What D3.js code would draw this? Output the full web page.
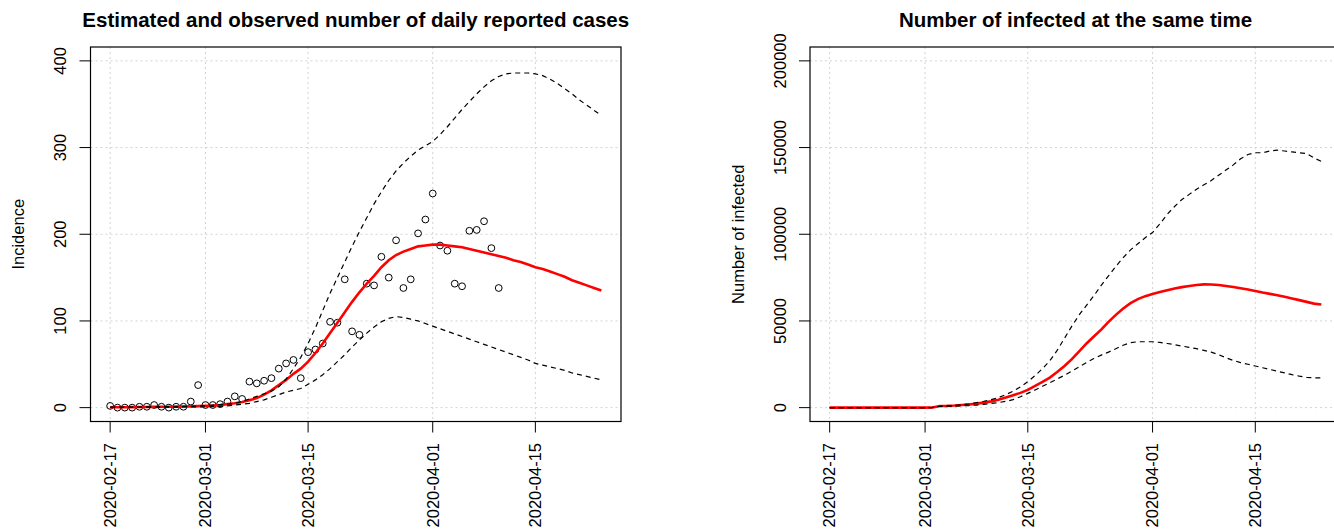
<!DOCTYPE html>
<html>
<head>
<meta charset="utf-8">
<script src="https://cdn.jsdelivr.net/npm/d3@7"></script>
<style>
  html, body { margin: 0; padding: 0; background: #fff; }
  text { font-family: "Liberation Sans", Arial, sans-serif; fill: #000; }
</style>
</head>
<body>
<script>
// first day of the series, all arrays below are one value per day from here
const START_DATE = "2020-02-17";
const tickDates = ["2020-02-17", "2020-03-01", "2020-03-15", "2020-04-01", "2020-04-15"];

// observed daily reported cases (02-17 .. 04-10)
const casesObserved = [2, 0, 0, 0, 1, 1, 3, 1, 0, 1, 1, 7, 26, 3, 3, 4, 7, 13, 10, 30,
  28, 31, 34, 45, 51, 55, 34, 64, 67, 74, 99, 98, 148, 88, 84, 143, 141, 174, 150, 193,
  138, 148, 201, 217, 247, 187, 181, 143, 140, 204, 205, 215, 184, 138];

// estimated incidence (02-17 .. 04-24)
const incMean = [0.5, 0.5, 0.5, 0.6, 0.7, 0.8, 0.9, 1, 1.1, 1.2, 1.3, 1.5, 1.7, 2, 2.3, 3, 4, 5, 6.5, 8.5,
  11, 15, 20, 26, 32, 39, 45, 53, 63, 74, 86, 98, 110, 122, 133, 143, 152, 162, 170, 176,
  180, 183, 186, 187, 188, 188, 187, 186, 185, 183, 181, 179, 177, 175, 173, 170, 168, 165, 162, 160,
  157, 154, 151, 147, 144, 141, 138, 135];
const incUpper = [0.5, 0.5, 0.5, 0.6, 0.7, 0.8, 0.9, 1, 1.1, 1.2, 1.4, 1.6, 2, 2.5, 3, 3.5, 4, 5, 7, 10,
  13, 16, 19, 24, 33, 45, 58, 74, 92, 112, 132, 150, 168, 186, 203, 219, 235, 249, 262, 273,
  282, 290, 297, 302, 307, 315, 324, 334, 344, 353, 362, 370, 377, 382, 385, 386, 386, 386, 385, 383,
  379, 374, 368, 362, 355, 349, 343, 337];
const incLower = [0.3, 0.3, 0.3, 0.3, 0.4, 0.4, 0.5, 0.5, 0.6, 0.6, 0.7, 0.8, 0.9, 1, 1.2, 1.5, 2, 3, 4, 5,
  7, 9, 12, 15, 18, 20, 22, 27, 32, 38, 45, 53, 61, 70, 78, 86, 93, 99, 103, 105,
  104, 102, 100, 97, 94, 91, 88, 85, 82, 79, 76, 73, 70, 67, 64, 61, 58, 55, 51, 49,
  47, 45, 43, 40, 38, 36, 34, 32];

// estimated number infected at the same time (02-17 .. 04-24)
const infMean = [0, 0, 0, 0, 0, 0, 0, 0, 0, 0, 0, 0, 0, 0, 100, 900, 1000, 1200, 1500, 1800,
  2300, 2900, 3600, 4600, 5800, 7200, 8500, 10200, 12600, 14800, 17300, 20500, 24000, 28000, 32500, 37000, 41000, 45000, 49500, 53500,
  57200, 60300, 62600, 64300, 65600, 66700, 67700, 68700, 69500, 70200, 70700, 71100, 71000, 70700, 70200, 69600, 68900, 68100, 67300, 66400,
  65600, 64800, 63900, 63000, 62000, 61000, 60000, 59500];
const infUpper = [0, 0, 0, 0, 0, 0, 0, 0, 0, 0, 0, 0, 0, 0, 100, 800, 1000, 1300, 1700, 2200,
  2900, 3700, 4600, 5800, 7500, 9500, 12000, 15000, 18500, 22500, 27000, 33000, 40000, 47000, 53500, 59000, 64500, 70500, 76000, 81500,
  86500, 91000, 94500, 98000, 101000, 106000, 111500, 116000, 120000, 123000, 126000, 128500, 131000, 134000, 137000, 140000, 143500, 146000, 147000, 147000,
  148000, 148500, 148000, 147500, 147000, 146500, 144000, 142000];
const infLower = [0, 0, 0, 0, 0, 0, 0, 0, 0, 0, 0, 0, 0, 0, 50, 700, 800, 900, 1000, 1200,
  1500, 1900, 2400, 2900, 3600, 4600, 6300, 8200, 10200, 12300, 14400, 16500, 18700, 21000, 23500, 26000, 28300, 30300, 32000, 34000,
  36000, 37500, 38000, 38000, 38000, 37600, 37000, 36300, 35500, 34800, 34000, 33000, 32000, 30500, 28800, 27200, 26000, 25000, 24000, 23000,
  22000, 21000, 20000, 19000, 18200, 17500, 17200, 17100];

const incTicks = [0, 100, 200, 300, 400];
const infTicks = [0, 50000, 100000, 150000, 200000];

// LAYOUT
const W = 1334, H = 531;
const TOP = 47, BOTTOM = 421.5;
const FONT = 16.5;

const parseDate = d3.utcParse("%Y-%m-%d");
const day0 = parseDate(START_DATE);
const dayOf = i => d3.utcDay.offset(day0, i);

const svg = d3.select("body").append("svg")
  .attr("width", W)
  .attr("height", H);

// R style axis range: data range plus 4% on each side
const padded = ([lo, hi]) => {
  const p = (hi - lo) * 0.04;
  return [lo - p, hi + p];
};

function drawPanel(cfg) {
  const n = cfg.mean.length;
  const xExt = padded([+dayOf(0), +dayOf(n - 1)]);
  const x = d3.scaleUtc()
    .domain([new Date(xExt[0]), new Date(xExt[1])])
    .range([cfg.left, cfg.right]);
  const y = d3.scaleLinear()
    .domain(padded(cfg.ylim))
    .range([BOTTOM, TOP]);

  const g = svg.append("g");
  const ticksX = tickDates.map(parseDate);

  // grid
  g.append("g").selectAll("line").data(ticksX).join("line")
    .attr("x1", d => x(d)).attr("x2", d => x(d))
    .attr("y1", TOP).attr("y2", BOTTOM)
    .attr("stroke", "#d3d3d3").attr("stroke-dasharray", "2,3");
  g.append("g").selectAll("line").data(cfg.yTicks).join("line")
    .attr("x1", cfg.left).attr("x2", cfg.right)
    .attr("y1", d => y(d)).attr("y2", d => y(d))
    .attr("stroke", "#d3d3d3").attr("stroke-dasharray", "2,3");

  // observed points
  if (cfg.points) {
    g.append("g").selectAll("circle").data(cfg.points).join("circle")
      .attr("cx", (d, i) => x(dayOf(i)))
      .attr("cy", d => y(d))
      .attr("r", 3.4)
      .attr("fill", "none")
      .attr("stroke", "#000")
      .attr("stroke-width", 1);
  }

  const line = d3.line()
    .x((d, i) => x(dayOf(i)))
    .y(d => y(d));

  g.append("path").datum(cfg.mean)
    .attr("d", line)
    .attr("fill", "none").attr("stroke", "#ff0000").attr("stroke-width", 2.6);
  [cfg.lower, cfg.upper].forEach(s => {
    g.append("path").datum(s)
      .attr("d", line)
      .attr("fill", "none").attr("stroke", "#000").attr("stroke-width", 1.2)
      .attr("stroke-dasharray", "5,4");
  });

  // box
  g.append("rect")
    .attr("x", cfg.left).attr("y", TOP)
    .attr("width", cfg.right - cfg.left).attr("height", BOTTOM - TOP)
    .attr("fill", "none").attr("stroke", "#000").attr("stroke-width", 1.2);

  // x axis: ticks + vertical labels
  const xa = g.append("g");
  xa.selectAll("line").data(ticksX).join("line")
    .attr("x1", d => x(d)).attr("x2", d => x(d))
    .attr("y1", BOTTOM).attr("y2", BOTTOM + 11)
    .attr("stroke", "#000");
  xa.selectAll("text").data(ticksX).join("text")
    .attr("transform", d => `translate(${x(d)},${443}) rotate(-90)`)
    .attr("dy", "0.35em")
    .attr("text-anchor", "end")
    .style("font-size", FONT + "px")
    .text(d3.utcFormat("%Y-%m-%d"));

  // y axis
  const ya = g.append("g");
  ya.selectAll("line").data(cfg.yTicks).join("line")
    .attr("x1", cfg.left - 11).attr("x2", cfg.left)
    .attr("y1", d => y(d)).attr("y2", d => y(d))
    .attr("stroke", "#000");
  ya.selectAll("text").data(cfg.yTicks).join("text")
    .attr("transform", d => `translate(${cfg.left - 30},${y(d)}) rotate(-90)`)
    .attr("dy", "0.35em")
    .attr("text-anchor", "middle")
    .style("font-size", FONT + "px")
    .text(d => d);

  g.append("text")
    .attr("transform", `translate(${cfg.left - 72},${(TOP + BOTTOM) / 2}) rotate(-90)`)
    .attr("dy", "0.35em")
    .attr("text-anchor", "middle")
    .style("font-size", FONT + "px")
    .text(cfg.ylab);

  g.append("text")
    .attr("x", (cfg.left + cfg.right) / 2)
    .attr("y", 26.7)
    .attr("text-anchor", "middle")
    .style("font-size", "20.5px")
    .style("font-weight", "bold")
    .text(cfg.title);
}

drawPanel({
  left: 90.5, right: 621,
  ylim: [0, 400], yTicks: incTicks,
  mean: incMean, upper: incUpper, lower: incLower, points: casesObserved,
  title: "Estimated and observed number of daily reported cases",
  ylab: "Incidence"
});

drawPanel({
  left: 810, right: 1341,
  ylim: [0, 200000], yTicks: infTicks,
  mean: infMean, upper: infUpper, lower: infLower,
  title: "Number of infected at the same time",
  ylab: "Number of infected"
});
</script>
</body>
</html>
